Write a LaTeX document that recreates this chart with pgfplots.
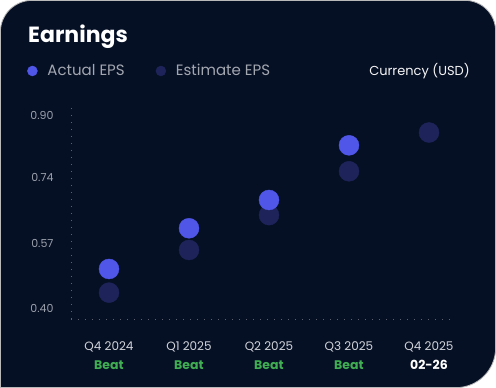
\documentclass[border=0pt]{standalone}
\usepackage{pgfplots}
\pgfplotsset{compat=1.18}
\usepackage{fontspec}
\setmainfont{Poppins}
\definecolor{bg}{HTML}{061025}
\definecolor{actual}{HTML}{4F56E8}
\definecolor{estim}{HTML}{1E2459}
\definecolor{tickgray}{HTML}{9BA1AC}
\definecolor{xlab}{HTML}{D2D5DA}
\definecolor{beat}{HTML}{3FAE52}
\definecolor{gridc}{HTML}{5C6272}
\definecolor{legtext}{HTML}{A3A7B0}
\begin{document}
\begin{tikzpicture}
\useasboundingbox (0pt,0pt) rectangle (496pt,-388pt);
\fill[white] (0pt,0pt) rectangle (496pt,-388pt);
\filldraw[fill=bg, draw=gray!55, line width=0.8pt]
  (0.4pt,-387.6pt) -- (0.4pt,-32pt) arc[start angle=180,end angle=90,radius=31.6pt]
  -- (465pt,-0.4pt) arc[start angle=90,end angle=0,radius=30.6pt]
  -- (495.6pt,-348pt) arc[start angle=0,end angle=-90,radius=39.6pt] -- cycle;
\node[anchor=base west, text=white, font=\fontsize{22}{26}\selectfont\bfseries, inner sep=0pt] at (28pt,-42pt) {Earnings};
\node[anchor=base east, text=white!92!gray, font=\fontsize{13}{15}\selectfont, inner sep=0pt] at (470pt,-75pt) {Currency (USD)};
\begin{axis}[
  at={(71pt,-319pt)}, anchor=south west,
  scale only axis, width=384pt, height=214pt,
  xmin=-0.475, xmax=4.325, ymin=0.374, ymax=0.926,
  clip=false,
  axis x line*=bottom, axis y line*=left,
  axis line style={gridc, line width=0.8pt, dash pattern=on 0.9pt off 6.1pt, -},
  major tick length=0pt,
  xtick={0,1,2,3,4},
  xticklabels={
    {Q4 2024\\{\fontsize{12.5}{14}\selectfont\bfseries\color{beat}Beat}},
    {Q1 2025\\{\fontsize{12.5}{14}\selectfont\bfseries\color{beat}Beat}},
    {Q2 2025\\{\fontsize{12.5}{14}\selectfont\bfseries\color{beat}Beat}},
    {Q3 2025\\{\fontsize{12.5}{14}\selectfont\bfseries\color{beat}Beat}},
    {Q4 2025\\{\fontsize{12.5}{14}\selectfont\bfseries\color{white}02-26}}},
  x tick label style={align=center, text=xlab, font=\fontsize{12}{19}\selectfont, yshift=-19pt},
  ytick={0.40,0.57,0.74,0.90},
  yticklabels={0.40,0.57,0.74,0.90},
  y tick label style={text=tickgray, font=\fontsize{11}{13}\selectfont, xshift=-14pt},
  legend columns=2,
  legend style={at={(axis description cs:-0.1146,1.159)}, anchor=west, draw=none, fill=none,
    text=legtext, font=\fontsize{15}{17}\selectfont, inner sep=0pt,
    /tikz/every even column/.append style={column sep=29pt}},
  legend image code/.code={\fill (0pt,0pt) circle (5pt); \path[draw=none,fill=none] (-5pt,-1pt) rectangle (13pt,1pt);},
]
\addlegendimage{only marks, mark=*, color=actual}
\addlegendentry{Actual EPS}
\addlegendimage{only marks, mark=*, color=estim}
\addlegendentry{Estimate EPS}
\addplot[forget plot, only marks, mark=*, mark size=10pt, color=estim] coordinates {
  (0,0.442) (1,0.552) (2,0.642) (3,0.755) (4,0.855)};
\addplot[forget plot, only marks, mark=*, mark size=10pt, color=actual] coordinates {
  (0,0.503) (1,0.608) (2,0.681) (3,0.822)};
\end{axis}
\end{tikzpicture}
\end{document}
